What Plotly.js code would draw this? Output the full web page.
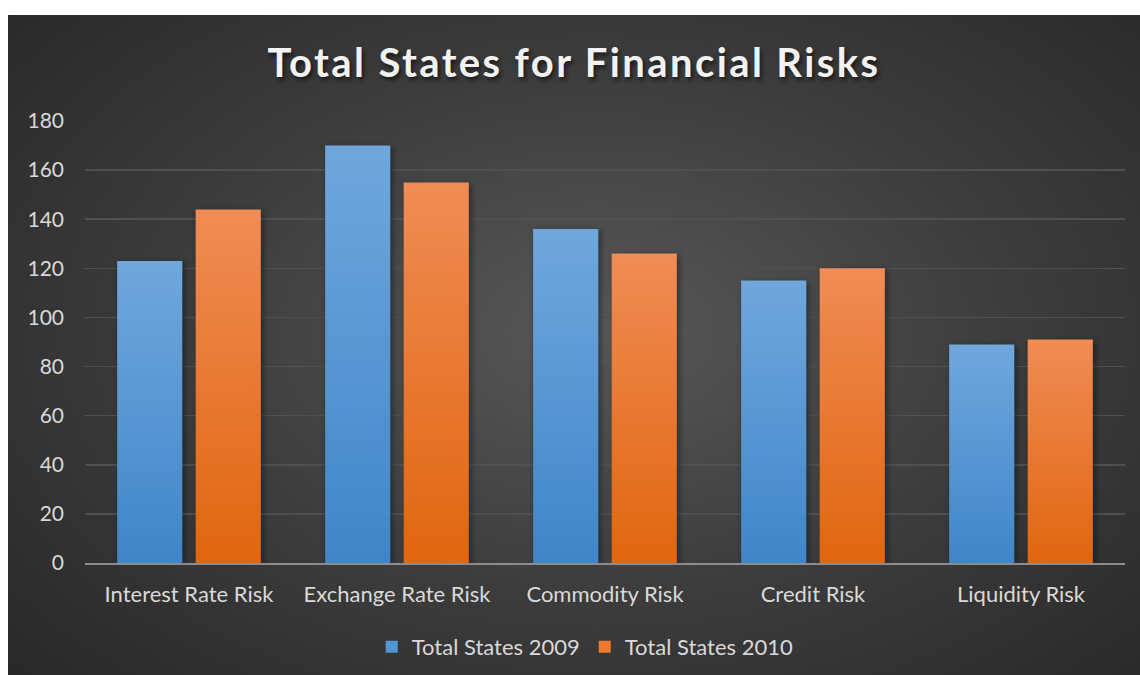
<!DOCTYPE html>
<html>
<head>
<meta charset="utf-8">
<script src="https://cdn.plot.ly/plotly-3.0.1.min.js"></script>
<style>
  html, body { margin: 0; padding: 0; background: #ffffff; width: 1140px; height: 675px; overflow: hidden; }
  #chart {
    position: absolute; left: 8px; top: 15px; width: 1132px; height: 660px;
    background: radial-gradient(ellipse 72% 78% at 52% 48%, #585858 0%, #3d3d3d 50%, #272727 100%);
  }
  .gtitle { letter-spacing: 2.4px; text-shadow: 2px 3px 4px rgba(0,0,0,0.6); }
  .barlayer .trace:nth-child(1) .point path { fill: url(#gBlue) !important; }
  .barlayer .trace:nth-child(2) .point path { fill: url(#gOrange) !important; }
  .barlayer .point path { filter: drop-shadow(2px 2px 3px rgba(0,0,0,0.45)); }
</style>
</head>
<body>
<svg width="0" height="0" style="position:absolute">
  <defs>
    <linearGradient id="gBlue" x1="0" y1="0" x2="0" y2="1">
      <stop offset="0" stop-color="#70a7dd"/>
      <stop offset="1" stop-color="#3f86c8"/>
    </linearGradient>
    <linearGradient id="gOrange" x1="0" y1="0" x2="0" y2="1">
      <stop offset="0" stop-color="#f08c55"/>
      <stop offset="1" stop-color="#e0660f"/>
    </linearGradient>
  </defs>
</svg>
<div id="chart"></div>
<script>
const categories = ["Interest Rate Risk", "Exchange Rate Risk", "Commodity Risk", "Credit Risk", "Liquidity Risk"];
const series2009 = [123, 170, 136, 115, 89];
const series2010 = [144, 155, 126, 120, 91];
const seriesNames = ["Total States 2009", "Total States 2010"];
const tickValues = [0, 20, 40, 60, 80, 100, 120, 140, 160, 180];

const font = "Lato, 'Open Sans', sans-serif";

const traces = [
  { type: "bar", name: seriesNames[0], x: categories, y: series2009,
    marker: { color: "#5096d6" }, hoverinfo: "none" },
  { type: "bar", name: seriesNames[1], x: categories, y: series2010,
    marker: { color: "#ec7a2d" }, hoverinfo: "none" }
];

const layout = {
  width: 1132, height: 660,
  paper_bgcolor: "rgba(0,0,0,0)",
  plot_bgcolor: "rgba(0,0,0,0)",
  margin: { l: 77, r: 15, t: 106, b: 112, autoexpand: false },
  barmode: "group",
  bargap: 0.245,
  bargroupgap: 0.17,
  title: {
    text: "<b>Total States for Financial Risks</b>",
    font: { family: font, size: 40, color: "#f2f2f2" },
    x: 0.5, xanchor: "center", y: 0.927, yanchor: "middle"
  },
  xaxis: {
    type: "category", automargin: false,
    tickfont: { family: font, size: 22, color: "#d9d9d9" },
    showline: true, linecolor: "#8c8c8c", linewidth: 2,
    ticks: "", ticklabelstandoff: 11,
    showgrid: false, zeroline: false, fixedrange: true
  },
  yaxis: {
    range: [0, 180], automargin: false,
    tickvals: tickValues,
    tickfont: { family: font, size: 21, color: "#d9d9d9" },
    showgrid: true, gridcolor: "#505050", gridwidth: 1.5,
    zeroline: false, showline: false, ticks: "",
    ticklabelstandoff: 20, fixedrange: true
  },
  showlegend: true,
  legend: {
    orientation: "h", x: 0.481, xanchor: "center", y: -0.19, yanchor: "middle",
    font: { family: font, size: 22, color: "#d9d9d9" },
    bgcolor: "rgba(0,0,0,0)", itemwidth: 30, tracegroupgap: 0
  }
};

Plotly.newPlot("chart", traces, layout, { staticPlot: true, displayModeBar: false });
</script>
</body>
</html>
